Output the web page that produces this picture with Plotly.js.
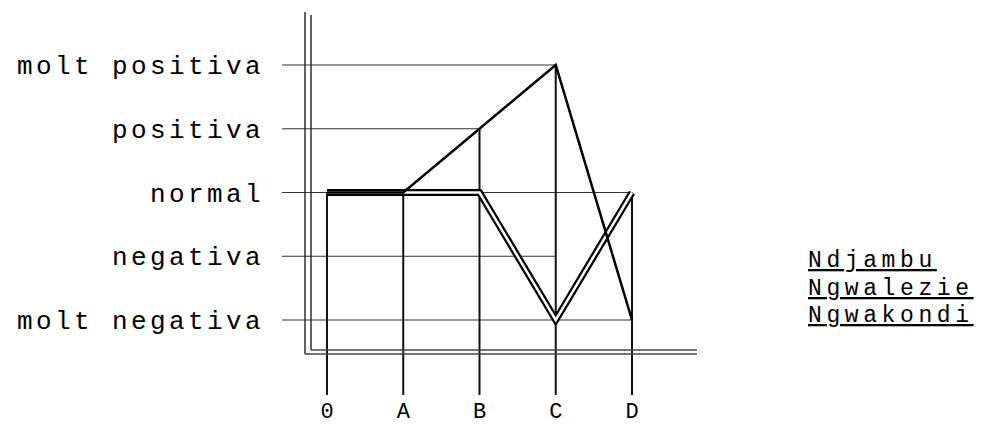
<!DOCTYPE html>
<html><head><meta charset="utf-8">
<script src="https://cdn.plot.ly/plotly-3.0.1.min.js"></script>
<style>
html,body{margin:0;padding:0;background:#fff;}
#chart .ytick text{letter-spacing:3.4px;}
#chart .annotation-text{letter-spacing:4.6px;}
</style>
</head><body>
<div id="chart" style="width:988px;height:427px;"></div>
<script>
// Categories (stages) and levels
const categories = ['0','A','B','C','D'];
const levelLabels = ['molt negativa','negativa','normal','positiva','molt positiva'];
const seriesNames = ['Ndjambu','Ngwalezie','Ngwakondi'];
// Values as level index (0 = molt negativa ... 4 = molt positiva)
const ndjambu   = [2,2,3,4,0];
const ngwalezie = [2,2,2,0,2];
const ngwakondi = [2,2,2,0,2];
// Stage up to which each level's guide line is drawn
const levelLineEnds = ['D','C','D','B','C'];

const xIdx = categories.map((c,i)=>i);
const L = 282, T = 10, W = 418, H = 385;
const XR = [-0.590, 4.892];
const YR = [4 - (H - 55)/63.75 + 0, 0]; YR[1] = 4 + 55/63.75; YR[0] = 0 - (T + H - 320)/63.75;
const xd = px => XR[0] + (px-L)/W*(XR[1]-XR[0]);
const yd = py => YR[1] - (py-T)/H*(YR[1]-YR[0]);

const shapes = [];
const ln = (x0,y0,x1,y1,w,c) => shapes.push({type:'line',layer:'below',x0,y0,x1,y1,xref:'x',yref:'y',line:{color:c,width:w}});
// guide lines for each level
levelLabels.forEach((lab,i)=>{
  ln(XR[0], i, categories.indexOf(levelLineEnds[i]), i, 1.1, '#333');
});
// drop lines from highest value at each stage
const all = [ndjambu, ngwalezie, ngwakondi];
xIdx.forEach(i=>{
  const top = Math.max(...all.map(s=>s[i]));
  ln(i, top, i, YR[0], 2, '#111');
});
// double-line frame
ln(xd(305), yd(12), xd(305), yd(354), 1.4, '#222');
ln(xd(305), yd(354), xd(697), yd(354), 1.3, '#444');
ln(xd(311), yd(15), xd(311), yd(350), 1.4, '#222');
ln(xd(311), yd(350), xd(697), yd(350), 1.3, '#444');

const traces = [
  {x:xIdx, y:ngwalezie, name:seriesNames[1], mode:'lines', line:{color:'#000', width:7}},
  {x:xIdx, y:ngwakondi, name:seriesNames[2], mode:'lines', line:{color:'#fff', width:2.5}},
  {x:xIdx, y:ndjambu, name:seriesNames[0], mode:'lines', line:{color:'#000', width:2.5}}
];

const legY = [261, 288.5, 316];
const annotations = seriesNames.map((n,i)=>({
  xref:'paper', yref:'paper', x:(806-L)/W, y:1-(legY[i]-T)/H,
  xanchor:'left', yanchor:'middle', align:'left', showarrow:false,
  text:'<span style="text-decoration:underline">'+n+'</span>',
  font:{family:'Liberation Mono, Courier New, monospace', size:23, color:'#000'}
}));

const layout = {
  width:988, height:427,
  margin:{l:L, r:988-L-W, t:T, b:427-T-H},
  paper_bgcolor:'#fff', plot_bgcolor:'#fff',
  showlegend:false,
  font:{family:'Liberation Mono, Courier New, monospace', color:'#000'},
  xaxis:{range:XR, tickmode:'array', tickvals:xIdx, ticktext:categories, showgrid:false, zeroline:false, showline:false, ticks:'', ticklabelstandoff:0, tickfont:{size:22}},
  yaxis:{range:YR, tickmode:'array', tickvals:levelLabels.map((l,i)=>i), ticktext:levelLabels, showgrid:false, zeroline:false, showline:false, ticks:'', ticklabelstandoff:17, tickfont:{size:26}},
  shapes, annotations
};
Plotly.newPlot('chart', traces, layout, {staticPlot:true});
</script>
</body></html>
